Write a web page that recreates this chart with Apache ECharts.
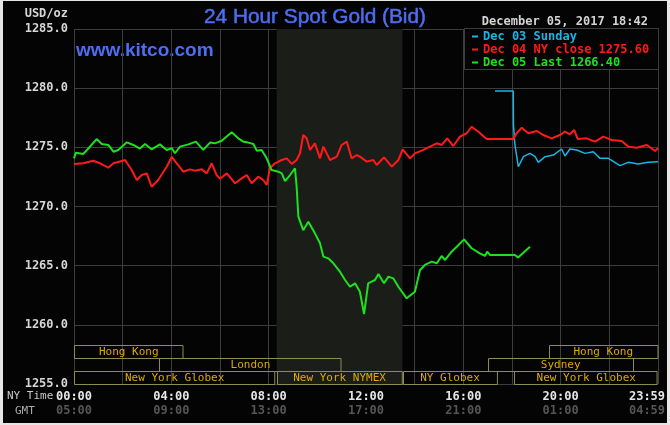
<!DOCTYPE html>
<html>
<head>
<meta charset="utf-8">
<script src="https://cdn.jsdelivr.net/npm/echarts@6/dist/echarts.min.js"></script>
<style>
  html, body { margin: 0; padding: 0; background: #e6e6e6; }
  #chart {
    position: absolute; left: 0; top: 0; width: 670px; height: 425px;
    box-sizing: border-box; border-style: solid; border-color: #e6e6e6;
    border-width: 1px 3px 2px 3px; background: #040404;
  }
</style>
</head>
<body>
<div id="chart"></div>
<script>
// hours since 00:00 NY time, price
var dec03 = [[17.30, 1279.76], [18.05, 1279.76], [18.06, 1276.9], [18.12, 1275.2], [18.26, 1273.36], [18.47, 1274.21],
  [18.74, 1274.49], [18.95, 1274.21], [19.08, 1273.73], [19.36, 1274.21], [19.70, 1274.35], [20.04, 1274.86],
  [20.18, 1274.27], [20.38, 1274.86], [20.66, 1274.78], [21.00, 1274.49], [21.34, 1274.63], [21.62, 1274.07],
  [21.96, 1274.07], [22.44, 1273.45], [22.78, 1273.73], [23.19, 1273.59], [23.60, 1273.73], [24.0, 1273.79]];

var dec04 = [[0, 1273.6], [0.38, 1273.65], [0.79, 1273.87], [1.07, 1273.65], [1.41, 1273.28], [1.62, 1273.65],
  [1.96, 1273.85], [2.10, 1273.93], [2.37, 1273.08], [2.58, 1272.24], [2.78, 1272.66], [2.99, 1272.8], [3.19, 1271.67],
  [3.46, 1272.24], [3.81, 1273.36], [4.02, 1274.2], [4.22, 1273.65], [4.49, 1272.94], [4.77, 1273.14], [4.97, 1273.03],
  [5.25, 1273.14], [5.45, 1272.8], [5.66, 1273.65], [5.86, 1272.66], [6.00, 1272.35], [6.28, 1272.8], [6.62, 1271.96],
  [6.89, 1272.38], [7.10, 1272.66], [7.30, 1271.96], [7.57, 1272.52], [7.78, 1272.24], [7.92, 1271.82], [8.05, 1273.23],
  [8.26, 1273.65], [8.54, 1273.93], [8.74, 1274.07], [8.95, 1273.6], [9.15, 1273.93], [9.29, 1274.5], [9.42, 1276.04],
  [9.56, 1275.76], [9.70, 1274.78], [9.90, 1275.34], [10.11, 1274.07], [10.25, 1275.06], [10.52, 1273.93], [10.80, 1274.21],
  [11.00, 1275.2], [11.21, 1275.48], [11.41, 1274.07], [11.62, 1274.35], [11.75, 1274.21], [12.03, 1273.79], [12.30, 1273.93],
  [12.44, 1273.51], [12.74, 1274.15], [13.06, 1273.37], [13.33, 1273.93], [13.51, 1274.83], [13.81, 1274.07], [14.01, 1274.49],
  [14.36, 1274.78], [14.63, 1275.06], [14.91, 1275.34], [15.11, 1275.2], [15.34, 1275.76], [15.59, 1275.11], [15.86, 1275.9],
  [16.14, 1276.19], [16.34, 1276.74], [16.62, 1276.32], [16.96, 1275.7], [18.05, 1275.7], [18.19, 1276.19], [18.40, 1276.66],
  [18.67, 1276.19], [19.02, 1276.38], [19.29, 1276.04], [19.63, 1275.76], [19.97, 1276.04], [20.18, 1276.32], [20.38, 1276.1],
  [20.56, 1276.46], [20.70, 1275.7], [21.07, 1275.76], [21.41, 1275.48], [21.75, 1275.9], [22.10, 1275.62], [22.51, 1275.53],
  [22.78, 1275.06], [23.12, 1274.97], [23.54, 1275.2], [23.88, 1274.69], [24.0, 1274.92]];

var dec05 = [[0, 1274.07], [0.08, 1274.55], [0.38, 1274.44], [0.59, 1274.9], [0.93, 1275.7], [1.14, 1275.28], [1.41, 1275.2],
  [1.62, 1274.63], [1.82, 1274.78], [2.17, 1275.42], [2.44, 1275.2], [2.71, 1274.9], [2.92, 1275.28], [3.19, 1274.83],
  [3.53, 1275.25], [3.81, 1274.78], [4.02, 1274.92], [4.15, 1274.5], [4.36, 1275.06], [4.70, 1275.25], [5.01, 1275.48],
  [5.31, 1274.78], [5.59, 1275.4], [5.79, 1275.34], [6.07, 1275.56], [6.48, 1276.27], [6.75, 1275.76], [6.96, 1275.48],
  [7.16, 1275.4], [7.37, 1275.28], [7.51, 1274.72], [7.71, 1274.78], [7.92, 1274.07], [8.12, 1273.08], [8.40, 1272.94],
  [8.54, 1272.8], [8.67, 1272.15], [8.88, 1272.66], [9.08, 1273.23], [9.15, 1271.67], [9.22, 1269.14], [9.42, 1268.0],
  [9.63, 1268.72], [9.90, 1267.73], [10.11, 1266.89], [10.25, 1265.76], [10.45, 1265.62], [10.66, 1265.2], [10.93, 1264.49],
  [11.14, 1263.79], [11.34, 1263.22], [11.55, 1263.51], [11.75, 1262.8], [11.92, 1260.9], [12.09, 1263.51], [12.23, 1263.65],
  [12.37, 1263.79], [12.51, 1264.3], [12.74, 1263.51], [12.92, 1264.07], [13.12, 1263.93], [13.33, 1263.22], [13.67, 1262.24],
  [14.01, 1262.8], [14.22, 1264.63], [14.42, 1265.06], [14.70, 1265.34], [14.91, 1265.2], [15.11, 1265.82], [15.25, 1265.48],
  [15.52, 1266.18], [15.73, 1266.6], [16.03, 1267.22], [16.34, 1266.47], [16.68, 1266.04], [16.89, 1265.82], [16.98, 1266.18],
  [17.10, 1265.9], [18.12, 1265.9], [18.25, 1265.7], [18.74, 1266.6]];

var nyTimes = ['00:00', '04:00', '08:00', '12:00', '16:00', '20:00', '23:59'];
var gmtTimes = ['05:00', '09:00', '13:00', '17:00', '21:00', '01:00', '04:59'];

// trading sessions along the bottom
var sessionNames = ['Hong Kong', 'Hong Kong', 'London', 'Sydney', 'New York Globex', 'New York NYMEX', 'NY Globex', 'New York Globex'];
var sessionStart = [0, 19.5, 3.5, 17.0, 0, 8.33, 13.5, 18.1];
var sessionEnd = [4.5, 24, 11.0, 23.0, 8.27, 13.5, 17.4, 24];
var sessionRow = [0, 0, 1, 1, 2, 2, 2, 2];

var nymexStart = 8.33, nymexEnd = 13.5;

var chart = echarts.init(document.getElementById('chart'));
var mono = 'DejaVu Sans Mono';
var gridColor = '#3d3d3d';

var sessionData = sessionNames.map(function (n, i) {
    return [sessionStart[i], sessionEnd[i], sessionRow[i]];
});

var option = {
    backgroundColor: '#040404',
    animation: false,
    grid: { left: 71, top: 28, right: 9, bottom: 39, outerBoundsMode: 'none', containLabel: false },
    legend: {
        orient: 'vertical', left: 469, top: 29, padding: 0, itemGap: 0,
        itemWidth: 6, itemHeight: 2, icon: 'rect', selectedMode: false, z: 5,
        textStyle: { fontFamily: mono, fontWeight: 'bold', fontSize: 12, lineHeight: 13 },
        data: [
            { name: 'Dec 03 Sunday', textStyle: { color: '#1ab4e6' } },
            { name: 'Dec 04 NY close 1275.60', textStyle: { color: '#ff1a1a' } },
            { name: 'Dec 05 Last 1266.40', textStyle: { color: '#1ee01e' } }
        ]
    },
    xAxis: {
        type: 'value', min: 0, max: 24, interval: 2,
        axisLine: { show: false }, axisTick: { show: false },
        splitLine: { show: true, lineStyle: { color: gridColor, width: 1 } },
        axisLabel: {
            margin: 6, showMinLabel: true, showMaxLabel: true,
            formatter: function (v) {
                if (v % 4 !== 0) return '';
                var k = v / 4;
                if (v === 24) return '{c|' + nyTimes[k] + '}\n{d|' + gmtTimes[k] + '}';
                return '{a|' + nyTimes[k] + '}\n{b|' + gmtTimes[k] + '}';
            },
            rich: {
                a: { fontFamily: mono, fontWeight: 'bold', fontSize: 12, color: '#e6e6e6', lineHeight: 14 },
                b: { fontFamily: mono, fontWeight: 'bold', fontSize: 12, color: '#555555', lineHeight: 14 },
                c: { fontFamily: mono, fontWeight: 'bold', fontSize: 12, color: '#e6e6e6', lineHeight: 14, padding: [0, 22, 0, 0] },
                d: { fontFamily: mono, fontWeight: 'bold', fontSize: 12, color: '#555555', lineHeight: 14, padding: [0, 22, 0, 0] }
            }
        }
    },
    yAxis: {
        type: 'value', min: 1255, max: 1285, interval: 5,
        axisLine: { show: false }, axisTick: { show: false },
        splitLine: { show: true, lineStyle: { color: gridColor, width: 1 } },
        axisLabel: {
            margin: 6, color: '#d6d6d6', fontFamily: mono, fontWeight: 'bold', fontSize: 12,
            formatter: function (v) { return v.toFixed(1); }
        }
    },
    graphic: [
        { type: 'text', style: { text: '24 Hour Spot Gold (Bid)', x: 312, y: 16, align: 'center', verticalAlign: 'middle', fill: '#4d6ef2', font: '20.8px "Liberation Sans", Arial, sans-serif', stroke: '#4d6ef2', lineWidth: 0.5 } },
        { type: 'text', style: { text: 'www.kitco.com', x: 73, y: 50, verticalAlign: 'middle', fill: '#4d6ef2', font: 'bold 19px "Liberation Sans", Arial, sans-serif' } },
        { type: 'text', style: { text: 'December 05, 2017 18:42', x: 645, y: 21, align: 'right', verticalAlign: 'middle', fill: '#d4d4d4', font: 'bold 12px "DejaVu Sans Mono"' } },
        { type: 'text', style: { text: 'USD/oz', x: 65, y: 13, align: 'right', verticalAlign: 'middle', fill: '#d6d6d6', font: 'bold 12px "DejaVu Sans Mono"' } },
        { type: 'text', style: { text: 'NY Time', x: 4, y: 395, verticalAlign: 'middle', fill: '#c8c8c8', font: '11px "DejaVu Sans Mono"' } },
        { type: 'text', style: { text: 'GMT', x: 12, y: 410, verticalAlign: 'middle', fill: '#aaaaaa', font: '11px "DejaVu Sans Mono"' } },
        { type: 'rect', z: 3, shape: { x: 461.5, y: 27.5, width: 194, height: 41 }, style: { fill: '#040404', stroke: gridColor, lineWidth: 1 } }
    ],
    series: [
        {
            name: 'Dec 03 Sunday', type: 'line', data: dec03, showSymbol: false, z: 3,
            lineStyle: { color: '#1ab4e6', width: 1.5 }, itemStyle: { color: '#1ab4e6' }
        },
        {
            name: 'Dec 04 NY close 1275.60', type: 'line', data: dec04, showSymbol: false, z: 3,
            lineStyle: { color: '#ff1a1a', width: 2 }, itemStyle: { color: '#ff1a1a' }
        },
        {
            name: 'Dec 05 Last 1266.40', type: 'line', data: dec05, showSymbol: false, z: 3,
            lineStyle: { color: '#1ee01e', width: 2 }, itemStyle: { color: '#1ee01e' },
            markArea: {
                silent: true,
                itemStyle: { color: '#1b1d19' },
                data: [[{ xAxis: nymexStart }, { xAxis: nymexEnd }]]
            }
        },
        {
            type: 'custom', z: 2, silent: true,
            data: sessionData,
            renderItem: function (params, api) {
                var p0 = api.coord([api.value(0), 1255]);
                var p1 = api.coord([api.value(1), 1255]);
                var h = 13;
                var y = p0[1] - (3 - api.value(2)) * h;
                return {
                    type: 'group',
                    children: [
                        { type: 'rect', shape: { x: Math.round(p0[0]) + 0.5, y: Math.round(y) + 0.5, width: p1[0] - p0[0] - 1, height: h },
                          style: { fill: 'none', stroke: '#8e8b55', lineWidth: 1 } },
                        { type: 'text', style: { text: sessionNames[params.dataIndex], x: (p0[0] + p1[0]) / 2, y: y + h / 2 + 1,
                          align: 'center', verticalAlign: 'middle', fill: '#dcaa00', font: '11px "DejaVu Sans Mono"' } }
                    ]
                };
            }
        }
    ]
};

chart.setOption(option);
window.addEventListener('resize', chart.resize);
</script>
</body>
</html>
